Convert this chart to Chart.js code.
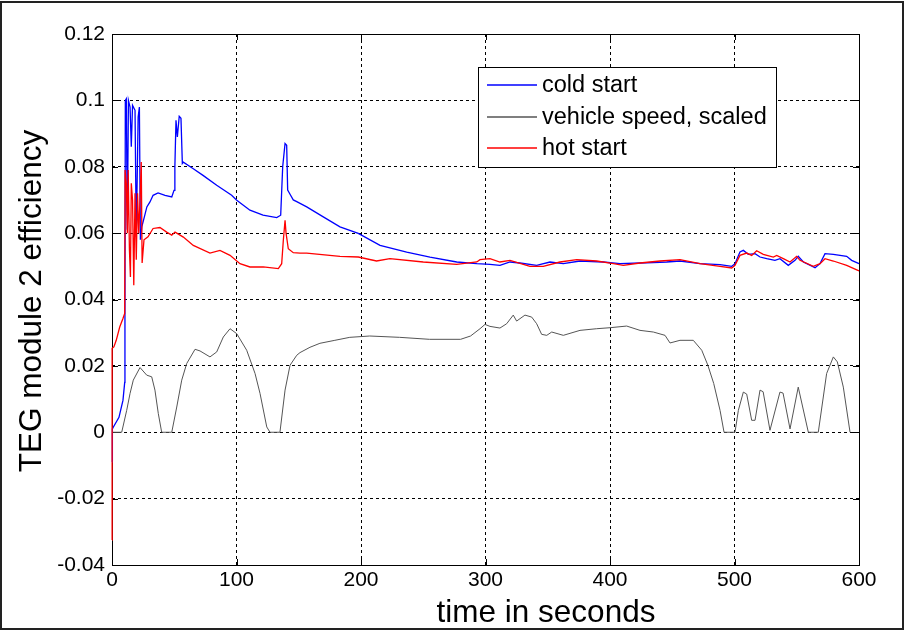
<!DOCTYPE html>
<html>
<head>
<script src="https://cdn.jsdelivr.net/npm/chart.js@4"></script>
<style>body{margin:0;background:#fff}</style>
</head>
<body>
<canvas id="canvas" width="905" height="634"></canvas>
<script>
// cold start efficiency (blue)
const coldT = [0, 0.3, 1, 5.6, 8.8, 10.2, 10.4, 10.7, 11.5, 12.3, 13.2, 14.5, 15.5, 16.5, 18.5, 19.5, 21, 22, 22.8, 24, 26, 28, 30.5, 33, 37, 42.6, 48, 49.8, 50.5, 51.4, 52.5, 54, 55.4, 56.5, 57.3, 65.3, 73.1, 84.1, 96.1, 100.2, 110.8, 121.3, 132.3, 135.5, 137.1, 139, 140.3, 141.1, 143, 145.6, 148.4, 156.4, 169.7, 183.1, 197.8, 215.3, 236.7, 255.4, 276.9, 293, 303.6, 311.6, 319.7, 327.7, 341.1, 351.8, 362.5, 375.9, 394.6, 408, 424.1, 445.5, 456.2, 472.3, 488.4, 497.8, 500.4, 504.4, 507.1, 511.1, 516.5, 520.5, 525.9, 532.5, 536.5, 543.2, 548.6, 551.2, 555.3, 564.7, 568.7, 572.7, 579.4, 590.1, 594.1, 600];
const coldV = [-0.009, 0.001, 0.0015, 0.0045, 0.0096, 0.015, 0.036, 0.1, 0.1005, 0.061, 0.1, 0.098, 0.086, 0.0985, 0.097, 0.0588, 0.095, 0.098, 0.058, 0.062, 0.0649, 0.0679, 0.0694, 0.0714, 0.0721, 0.0714, 0.0709, 0.0729, 0.08, 0.094, 0.089, 0.0952, 0.0946, 0.081, 0.0814, 0.0794, 0.0774, 0.0744, 0.0714, 0.0699, 0.0669, 0.0654, 0.0647, 0.0654, 0.08, 0.087, 0.0865, 0.073, 0.0717, 0.07, 0.0695, 0.0679, 0.0649, 0.0619, 0.0599, 0.0563, 0.0543, 0.0528, 0.0513, 0.0508, 0.0506, 0.0503, 0.0513, 0.051, 0.0503, 0.0513, 0.0508, 0.0516, 0.0513, 0.0508, 0.051, 0.0513, 0.0516, 0.0508, 0.0505, 0.05, 0.0508, 0.0543, 0.0548, 0.0536, 0.0538, 0.0528, 0.0523, 0.0518, 0.0523, 0.0503, 0.0518, 0.053, 0.0513, 0.0496, 0.0508, 0.0538, 0.0536, 0.053, 0.0518, 0.0508];

// vehicle speed, scaled (grey)
const speedT = [0, 1, 7.8, 11.8, 14.5, 17.1, 22.5, 27.9, 31.9, 34.5, 37.2, 39.9, 48, 52, 56, 60, 66.7, 70.7, 78.7, 84.1, 89.4, 94.8, 100.2, 108.2, 114.9, 118.9, 124.3, 126.9, 134.9, 139, 143, 148.4, 151, 159, 167, 179, 191, 207, 231, 255, 280, 288, 295.6, 299.6, 303.6, 311.6, 317, 322.3, 325, 331.7, 337.1, 341.1, 345.1, 349.2, 353.2, 362.5, 375.9, 389.3, 400, 413.4, 424.1, 434.8, 444.2, 448.2, 456.2, 466.9, 473.7, 478.6, 483.3, 488.4, 491.6, 500.4, 503.1, 507.1, 509.8, 513.8, 516.5, 520.5, 523, 528.5, 536.5, 539, 544.6, 551.2, 559.3, 567.3, 574, 579.4, 582.6, 587.4, 592.8];
const speedV = [0, 0, 0, 0.0066, 0.0117, 0.0157, 0.0195, 0.0172, 0.0167, 0.0127, 0.0056, 0, 0, 0.0076, 0.0157, 0.0207, 0.025, 0.0245, 0.0227, 0.0242, 0.0287, 0.0312, 0.0297, 0.0247, 0.0177, 0.0117, 0.0016, 0, 0, 0.0127, 0.0202, 0.0232, 0.024, 0.0256, 0.0268, 0.0277, 0.0286, 0.029, 0.0286, 0.028, 0.028, 0.029, 0.0312, 0.0325, 0.0319, 0.0314, 0.0327, 0.0353, 0.0335, 0.0353, 0.0347, 0.0327, 0.0295, 0.0292, 0.0302, 0.0292, 0.0307, 0.0312, 0.0315, 0.032, 0.0307, 0.0302, 0.0292, 0.0269, 0.0277, 0.0277, 0.0247, 0.0202, 0.0147, 0.0066, 0, 0, 0.0066, 0.0121, 0.0115, 0.0036, 0.0036, 0.0127, 0.0122, 0.0006, 0.0121, 0.0118, 0.001, 0.0136, 0, 0, 0.0177, 0.0227, 0.0212, 0.0136, 0];

// hot start efficiency (red)
const hotT = [0, 0.1, 1.5, 3.4, 6.2, 8.8, 10.2, 10.5, 11.5, 12.3, 13, 14, 14.8, 15.5, 16.5, 17.5, 18.5, 19.5, 20.5, 21.5, 22.5, 23.5, 24.2, 25.7, 28.9, 33, 38.5, 43.9, 48, 50.6, 52, 57.3, 65.3, 78.7, 86.7, 94.8, 102.8, 110.8, 121.5, 133.6, 136.3, 137.6, 139, 139.8, 141.6, 145.6, 151, 156.4, 183.1, 197.8, 212.5, 223.2, 250, 276.9, 293, 295.6, 303.6, 311.6, 319.7, 335.7, 346.4, 359.8, 373.3, 389.3, 402.7, 410.7, 424.1, 440.2, 456.2, 472.3, 488.4, 497.8, 500.4, 504.4, 509.8, 513.8, 517.8, 523.1, 531.2, 533.9, 539.2, 544.6, 549.9, 552.6, 563.3, 568.7, 572.7, 579.4, 590.1, 600];
const hotV = [-0.0325, 0.0253, 0.0257, 0.0277, 0.0317, 0.0343, 0.0358, 0.079, 0.075, 0.06, 0.079, 0.055, 0.0468, 0.075, 0.07, 0.0443, 0.072, 0.052, 0.072, 0.06, 0.07, 0.0814, 0.051, 0.058, 0.0589, 0.0614, 0.0617, 0.0603, 0.0594, 0.0603, 0.06, 0.0588, 0.0563, 0.054, 0.0548, 0.0533, 0.0508, 0.0498, 0.0498, 0.0493, 0.0508, 0.0578, 0.0639, 0.06, 0.0553, 0.0541, 0.054, 0.054, 0.053, 0.0528, 0.0516, 0.0523, 0.0513, 0.0506, 0.0513, 0.052, 0.0523, 0.0513, 0.0518, 0.05, 0.05, 0.0513, 0.052, 0.0516, 0.0508, 0.0503, 0.051, 0.0516, 0.052, 0.0508, 0.05, 0.0495, 0.0503, 0.0533, 0.054, 0.0533, 0.0547, 0.0536, 0.0528, 0.0533, 0.0523, 0.0513, 0.053, 0.0518, 0.05, 0.0508, 0.0523, 0.0516, 0.0503, 0.0486];

const yTicks = [-0.04, -0.02, 0, 0.02, 0.04, 0.06, 0.08, 0.1, 0.12];
const xTicks = [0, 100, 200, 300, 400, 500, 600];

const FONT = "'Liberation Sans', Arial, sans-serif";
const pts = (t, v) => t.map((x, i) => ({x: x, y: v[i]}));

// white page, axes box + inner ticks (under the lines), legend, axis labels, outer frame
const matlabBox = {
  id: 'matlabBox',
  beforeDraw(chart) {
    const ctx = chart.ctx;
    ctx.save();
    ctx.fillStyle = '#fff';
    ctx.fillRect(0, 0, chart.width, chart.height);
    ctx.restore();
  },
  beforeDatasetsDraw(chart) {
    const {ctx, chartArea: a, scales: {x, y}} = chart;
    ctx.save();
    ctx.strokeStyle = '#000';
    ctx.lineWidth = 1;
    ctx.beginPath();
    xTicks.forEach(v => {
      const px = Math.round(x.getPixelForValue(v)) + 0.5;
      ctx.moveTo(px, a.bottom); ctx.lineTo(px, a.bottom - 6);
      ctx.moveTo(px, a.top); ctx.lineTo(px, a.top + 6);
    });
    yTicks.forEach(v => {
      const py = Math.round(y.getPixelForValue(v)) + 0.5;
      ctx.moveTo(a.left, py); ctx.lineTo(a.left + 6, py);
      ctx.moveTo(a.right, py); ctx.lineTo(a.right - 6, py);
    });
    ctx.stroke();
    ctx.strokeRect(Math.round(a.left) + 0.5, Math.round(a.top) + 0.5, Math.round(a.width), Math.round(a.height));
    ctx.restore();
  },
  afterDraw(chart) {
    const ctx = chart.ctx;
    ctx.save();
    ctx.strokeStyle = '#000';
    ctx.lineWidth = 1;

    // legend
    const lx = 478, ly = 67, lw = 298, lh = 100;
    ctx.fillStyle = '#fff';
    ctx.fillRect(lx, ly, lw, lh);
    ctx.strokeRect(lx + 0.5, ly + 0.5, lw, lh);
    const rows = [85, 117, 148];
    chart.data.datasets.forEach((ds, i) => {
      ctx.strokeStyle = ds.borderColor;
      ctx.lineWidth = 1.5;
      ctx.beginPath();
      ctx.moveTo(487, rows[i]);
      ctx.lineTo(537, rows[i]);
      ctx.stroke();
      ctx.fillStyle = '#000';
      ctx.font = '23.5px ' + FONT;
      ctx.textBaseline = 'middle';
      ctx.textAlign = 'left';
      ctx.fillText(ds.label, 542, rows[i] + 1);
    });

    // axis labels
    ctx.fillStyle = '#000';
    ctx.font = '31.5px ' + FONT;
    ctx.textAlign = 'center';
    ctx.textBaseline = 'alphabetic';
    ctx.fillText('time in seconds', 546, 622);
    ctx.save();
    ctx.translate(41, 301);
    ctx.rotate(-Math.PI / 2);
    ctx.fillText('TEG module 2 efficiency', 0, 0);
    ctx.restore();

    // outer frame
    ctx.strokeStyle = '#222';
    ctx.lineWidth = 2;
    ctx.strokeRect(1, 2, 902, 627);
    ctx.restore();
  }
};

new Chart(document.getElementById('canvas').getContext('2d'), {
  type: 'line',
  data: {
    datasets: [
      {label: 'cold start', data: pts(coldT, coldV), borderColor: '#0000ff', order: 2, clip: false},
      {label: 'vehicle speed, scaled', data: pts(speedT, speedV), borderColor: '#555555', borderWidth: 1, order: 1, clip: false},
      {label: 'hot start', data: pts(hotT, hotV), borderColor: '#ff0000', order: 0, clip: false},
    ],
  },
  options: {
    responsive: false,
    animation: false,
    events: [],
    elements: {
      point: {radius: 0},
      line: {borderWidth: 1.3, tension: 0, fill: false},
    },
    layout: {padding: {left: 0, top: 34, right: 46, bottom: 0}},
    plugins: {
      legend: {display: false},
      tooltip: {enabled: false},
    },
    scales: {
      x: {
        type: 'linear',
        min: 0,
        max: 600,
        afterFit: (s) => { s.height = 69; },
        afterBuildTicks: (s) => { s.ticks = xTicks.map(v => ({value: v})); },
        ticks: {color: '#000', font: {family: FONT, size: 21}, padding: 3, maxRotation: 0},
        grid: {color: '#000', lineWidth: 1, drawTicks: false},
        border: {display: false, dash: [3, 3]},
      },
      y: {
        min: -0.04,
        max: 0.12,
        afterFit: (s) => { s.width = 112; },
        afterBuildTicks: (s) => { s.ticks = yTicks.map(v => ({value: v})); },
        ticks: {
          color: '#000',
          font: {family: FONT, size: 21},
          padding: 7,
          callback: (v) => { const n = Number(v.toFixed(2)); return n === 0 ? '0' : String(n); },
        },
        grid: {color: '#000', lineWidth: 1, drawTicks: false},
        border: {display: false, dash: [3, 3]},
      },
    },
  },
  plugins: [matlabBox],
});
</script>
</body>
</html>
